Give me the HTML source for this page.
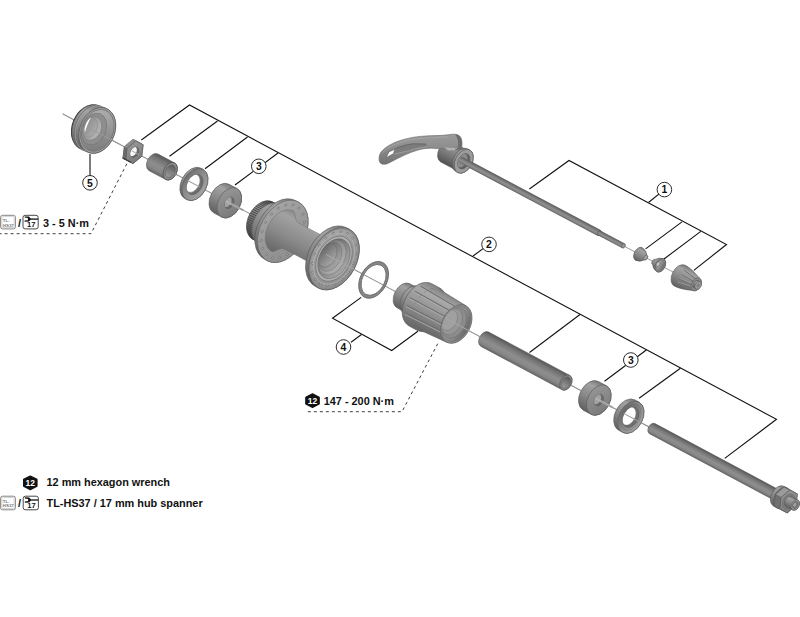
<!DOCTYPE html>
<html><head><meta charset="utf-8"><title>Hub exploded view</title>
<style>
html,body{margin:0;padding:0;background:#fff;}
svg{display:block;font-family:"Liberation Sans",sans-serif;fill:#111;}
</style></head><body>
<svg width="800" height="617" viewBox="0 0 800 617">
<rect width="800" height="617" fill="#fff"/>

<defs>
<linearGradient id="cy" x1="0" y1="0" x2="0" y2="1">
 <stop offset="0" stop-color="#787878"/><stop offset="0.2" stop-color="#a2a2a2"/>
 <stop offset="0.55" stop-color="#8a8a8a"/><stop offset="1" stop-color="#606060"/>
</linearGradient>
<linearGradient id="cyd" x1="0" y1="0" x2="0" y2="1">
 <stop offset="0" stop-color="#666"/><stop offset="0.25" stop-color="#8e8e8e"/>
 <stop offset="0.6" stop-color="#767676"/><stop offset="1" stop-color="#525252"/>
</linearGradient>
<linearGradient id="face" x1="0" y1="0" x2="1" y2="1">
 <stop offset="0" stop-color="#9a9a9a"/><stop offset="1" stop-color="#767676"/>
</linearGradient>
<linearGradient id="facel" x1="0" y1="0" x2="1" y2="1">
 <stop offset="0" stop-color="#a8a8a8"/><stop offset="1" stop-color="#8a8a8a"/>
</linearGradient>
<linearGradient id="inner" x1="0" y1="0" x2="1" y2="0">
 <stop offset="0" stop-color="#a6a6a6"/><stop offset="0.6" stop-color="#8a8a8a"/><stop offset="1" stop-color="#6a6a6a"/>
</linearGradient>
<linearGradient id="innerd" x1="0" y1="0" x2="0" y2="1">
 <stop offset="0" stop-color="#5a5a5a"/><stop offset="0.5" stop-color="#7c7c7c"/><stop offset="1" stop-color="#9c9c9c"/>
</linearGradient>
<linearGradient id="lev" x1="0" y1="0" x2="0" y2="1">
 <stop offset="0" stop-color="#9c9c9c"/><stop offset="0.4" stop-color="#8e8e8e"/><stop offset="1" stop-color="#727272"/>
</linearGradient>
<linearGradient id="innerv" x1="0" y1="0" x2="0.4" y2="1">
 <stop offset="0" stop-color="#b2b2b2"/><stop offset="0.5" stop-color="#9c9c9c"/><stop offset="1" stop-color="#808080"/>
</linearGradient>
<linearGradient id="wface" x1="0" y1="0.3" x2="1" y2="0.7">
 <stop offset="0" stop-color="#6e6e6e"/><stop offset="0.45" stop-color="#8c8c8c"/><stop offset="1" stop-color="#a4a4a4"/>
</linearGradient>
<linearGradient id="wface2" x1="0" y1="0.3" x2="1" y2="0.7">
 <stop offset="0" stop-color="#646464"/><stop offset="0.5" stop-color="#808080"/><stop offset="1" stop-color="#9a9a9a"/>
</linearGradient>
<linearGradient id="cyt" x1="0" y1="0" x2="0" y2="1">
 <stop offset="0" stop-color="#565656"/><stop offset="0.22" stop-color="#747474"/>
 <stop offset="0.55" stop-color="#8e8e8e"/><stop offset="0.8" stop-color="#868686"/><stop offset="1" stop-color="#666"/>
</linearGradient>
<linearGradient id="lrin" x1="0" y1="0" x2="1" y2="0.2">
 <stop offset="0" stop-color="#8a8a8a"/><stop offset="0.5" stop-color="#9c9c9c"/><stop offset="1" stop-color="#b4b4b4"/>
</linearGradient>
<linearGradient id="cyl" x1="0" y1="0" x2="0" y2="1">
 <stop offset="0" stop-color="#828282"/><stop offset="0.2" stop-color="#a8a8a8"/>
 <stop offset="0.55" stop-color="#929292"/><stop offset="1" stop-color="#666"/>
</linearGradient>
<linearGradient id="bore" x1="0" y1="0.2" x2="1" y2="0.6">
 <stop offset="0" stop-color="#7a7a7a"/><stop offset="0.5" stop-color="#969696"/><stop offset="1" stop-color="#b0b0b0"/>
</linearGradient>
<linearGradient id="bore2" x1="0" y1="0.2" x2="1" y2="0.6">
 <stop offset="0" stop-color="#5e5e5e"/><stop offset="0.5" stop-color="#848484"/><stop offset="1" stop-color="#a6a6a6"/>
</linearGradient>
<clipPath id="lrclip"><ellipse cx="40.81" cy="0" rx="15.95" ry="21.7"/></clipPath><clipPath id="nutclip"><ellipse cx="81.62" cy="0" rx="3.81" ry="5.6"/></clipPath><clipPath id="w1"><ellipse cx="150.09" cy="0" rx="7.34" ry="10.8"/></clipPath><clipPath id="b1"><ellipse cx="189.09" cy="0" rx="4.22" ry="6.2"/></clipPath><clipPath id="hubclip"><ellipse cx="307.78" cy="0" rx="14.42" ry="21.2"/></clipPath><clipPath id="fhclip"><ellipse cx="446.42" cy="0" rx="12.78" ry="18.8"/></clipPath><clipPath id="b2"><ellipse cx="607.96" cy="0" rx="4.22" ry="6.2"/></clipPath><clipPath id="w2"><ellipse cx="644.35" cy="0" rx="7.34" ry="10.8"/></clipPath><clipPath id="capclip"><ellipse cx="0" cy="0" rx="5.41" ry="8.2"/></clipPath></defs>

<g transform="translate(62.5,113.75) rotate(28.1)">
<line x1="0" y1="0" x2="667.14" y2="0" stroke="#8a8a8a" stroke-width="0.9" />
<g transform="translate(-2.3,-1.7) rotate(-6 40.81 0)">
<ellipse cx="32.01" cy="0" rx="17.2" ry="23.4" fill="#262626" stroke="none" stroke-width="0.7" />
<path d="M33.21,-23.7 L40.81,-23.7 A17.42,23.7 0 0 1 40.81,23.7 L33.21,23.7 A17.42,23.7 0 0 1 33.21,-23.7 Z" fill="url(#cy)" stroke="#5c5c5c" stroke-width="0.6"/>
<path d="M35.81,-23.7 A17.42,23.7 0 0 0 35.81,23.7" fill="none" stroke="#6a6a6a" stroke-width="0.7"/>
<path d="M36.81,-23.7 A17.42,23.7 0 0 0 36.81,23.7" fill="none" stroke="#a6a6a6" stroke-width="0.6"/>
<ellipse cx="40.81" cy="0" rx="17.42" ry="23.7" fill="#a0a0a0" stroke="#5c5c5c" stroke-width="0.7" />
<g clip-path="url(#lrclip)">
<ellipse cx="40.81" cy="0" rx="15.95" ry="21.7" fill="url(#innerv)" stroke="#6a6a6a" stroke-width="0.5" />
<ellipse cx="37.21" cy="0" rx="12.05" ry="16.4" fill="#8e8e8e" stroke="#6c6c6c" stroke-width="0.5" />
<ellipse cx="35.21" cy="0" rx="9.11" ry="12.4" fill="url(#lrin)" stroke="#747474" stroke-width="0.5" />
<ellipse cx="32.41" cy="0" rx="7.5" ry="10.2" fill="none" stroke="#8a8a8a" stroke-width="0.5" />
<path d="M30.21,-9.5 A4.2,9 0 0 0 30.21,6.5 A1.0,9 0 0 1 30.21,-9.5Z" fill="#fff"/>
</g>
<ellipse cx="40.81" cy="0" rx="15.95" ry="21.7" fill="none" stroke="#6a6a6a" stroke-width="0.5" />
</g>
<line x1="28.81" y1="0" x2="64.81" y2="0" stroke="#9a9a9a" stroke-width="0.9" />
<polygon points="86.78,0 82.6,10.65 74.24,10.65 70.06,0 74.24,-10.65 82.6,-10.65" fill="#5a5a5a" stroke="#505050" stroke-width="0.6"/>
<polygon points="86.78,0 82.6,10.65 85.8,10.65 89.98,0" fill="#4c4c4c" stroke="#4c4c4c" stroke-width="0.4"/>
<polygon points="82.6,10.65 74.24,10.65 77.44,10.65 85.8,10.65" fill="#4c4c4c" stroke="#4c4c4c" stroke-width="0.4"/>
<polygon points="74.24,10.65 70.06,0 73.26,0 77.44,10.65" fill="#6a6a6a" stroke="#6a6a6a" stroke-width="0.4"/>
<polygon points="70.06,0 74.24,-10.65 77.44,-10.65 73.26,0" fill="#8e8e8e" stroke="#8e8e8e" stroke-width="0.4"/>
<polygon points="74.24,-10.65 82.6,-10.65 85.8,-10.65 77.44,-10.65" fill="#8e8e8e" stroke="#8e8e8e" stroke-width="0.4"/>
<polygon points="82.6,-10.65 86.78,0 89.98,0 85.8,-10.65" fill="#7a7a7a" stroke="#7a7a7a" stroke-width="0.4"/>
<polygon points="89.98,0 85.8,10.65 77.44,10.65 73.26,0 77.44,-10.65 85.8,-10.65" fill="url(#face)" stroke="#5a5a5a" stroke-width="0.6"/>
<ellipse cx="81.62" cy="0" rx="3.81" ry="5.6" fill="#6a6a6a" stroke="#5a5a5a" stroke-width="0.5" />
<ellipse cx="79.82" cy="0" rx="3.54" ry="5.2" fill="#f6f6f6" stroke="none" stroke-width="0.7" clip-path="url(#nutclip)"/>
<line x1="78.62" y1="0" x2="86.62" y2="0" stroke="#a6a6a6" stroke-width="0.9" />
<polyline points="82.6,10.65 74.24,10.65" fill="none" stroke="#3a3a3a" stroke-width="1.3" stroke-linecap="round"/>
<path d="M103.27,-9.4 L122.09,-9.4 A6.39,9.4 0 0 1 122.09,9.4 L103.27,9.4 A6.39,9.4 0 0 1 103.27,-9.4 Z" fill="url(#cyt)" stroke="#5c5c5c" stroke-width="0.6"/>
<ellipse cx="122.09" cy="0" rx="6.39" ry="9.4" fill="#8c8c8c" stroke="#4a4a4a" stroke-width="0.7" />
<ellipse cx="122.09" cy="0" rx="4.56" ry="6.7" fill="url(#innerd)" stroke="#555" stroke-width="0.5" />
<line x1="121.09" y1="0" x2="130.09" y2="0" stroke="#8a8a8a" stroke-width="0.9" />
<path d="M147.89,-17.2 L150.09,-17.2 A11.7,17.2 0 0 1 150.09,17.2 L147.89,17.2 A11.7,17.2 0 0 1 147.89,-17.2 Z" fill="url(#cy)" stroke="#5c5c5c" stroke-width="0.6"/>
<ellipse cx="150.09" cy="0" rx="11.7" ry="17.2" fill="url(#wface)" stroke="#5c5c5c" stroke-width="0.6" />
<ellipse cx="150.09" cy="0" rx="7.34" ry="10.8" fill="#6e6e6e" stroke="#5c5c5c" stroke-width="0.5" />
<ellipse cx="147.49" cy="0" rx="6.53" ry="9.6" fill="#fff" stroke="#8a8a8a" stroke-width="0.4" clip-path="url(#w1)"/>
<line x1="141.75" y1="0" x2="155.94" y2="0" stroke="#9a9a9a" stroke-width="0.9" />
<path d="M180.09,-16.2 L189.09,-16.2 A11.02,16.2 0 0 1 189.09,16.2 L180.09,16.2 A11.02,16.2 0 0 1 180.09,-16.2 Z" fill="url(#cy)" stroke="#5c5c5c" stroke-width="0.6"/>
<ellipse cx="189.09" cy="0" rx="11.02" ry="16.2" fill="url(#face)" stroke="#5c5c5c" stroke-width="0.6" />
<ellipse cx="189.09" cy="0" rx="4.22" ry="6.2" fill="#6a6a6a" stroke="#5c5c5c" stroke-width="0.5" />
<ellipse cx="186.89" cy="0" rx="3.81" ry="5.6" fill="#a2a2a2" stroke="none" stroke-width="0.7" clip-path="url(#b1)"/>
<line x1="185.09" y1="0" x2="205.09" y2="0" stroke="#b0b0b0" stroke-width="2.2" />
<line x1="191.09" y1="0" x2="205.09" y2="0" stroke="#9a9a9a" stroke-width="0.9" />
<path d="M226.72,-21 L234.66,-21 A14.28,21 0 0 1 234.66,21 L226.72,21 A14.28,21 0 0 1 226.72,-21 Z" fill="url(#cyd)" stroke="#555" stroke-width="0.6"/>
<path d="M226.23,20.99 l6.5,0 M224.72,20.79 l6.5,0 M223.24,20.36 l6.5,0 M221.79,19.71 l6.5,0 M220.4,18.83 l6.5,0 M219.08,17.74 l6.5,0 M217.85,16.45 l6.5,0 M216.72,14.98 l6.5,0 M215.7,13.34 l6.5,0 M214.8,11.55 l6.5,0 M214.04,9.64 l6.5,0 M213.41,7.61 l6.5,0 M212.94,5.5 l6.5,0 M212.62,3.32 l6.5,0 M212.46,1.11 l6.5,0 M212.46,-1.11 l6.5,0 M212.62,-3.32 l6.5,0 M212.94,-5.5 l6.5,0 M213.41,-7.61 l6.5,0 M214.04,-9.64 l6.5,0 M214.8,-11.55 l6.5,0 M215.7,-13.34 l6.5,0 M216.72,-14.98 l6.5,0 M217.85,-16.45 l6.5,0 M219.08,-17.74 l6.5,0 M220.4,-18.83 l6.5,0 M221.79,-19.71 l6.5,0 M223.24,-20.36 l6.5,0 M224.72,-20.79 l6.5,0 M226.23,-20.99 l6.5,0" stroke="#3a3a3a" stroke-width="0.7" fill="none"/>
<path d="M234.16,-22.5 L246.74,-25 A17,25 0 0 1 246.74,25 L234.16,22.5 A15.3,22.5 0 0 1 234.16,-22.5 Z" fill="url(#cy)" stroke="#666" stroke-width="0.5"/>
<path d="M246.74,-33.2 L249.74,-33.2 A22.58,33.2 0 0 1 249.74,33.2 L246.74,33.2 A22.58,33.2 0 0 1 246.74,-33.2 Z" fill="url(#cy)" stroke="#5a5a5a" stroke-width="0.6"/>
<ellipse cx="249.74" cy="0" rx="22.58" ry="33.2" fill="url(#facel)" stroke="#666" stroke-width="0.6" />
<ellipse cx="269.19" cy="0" rx="0.8" ry="1.15" fill="#cdcdcd" stroke="#5c5c5c" stroke-width="0.6"/><ellipse cx="268.01" cy="9.78" rx="0.8" ry="1.15" fill="#cdcdcd" stroke="#5c5c5c" stroke-width="0.6"/><ellipse cx="264.64" cy="18.38" rx="0.8" ry="1.15" fill="#cdcdcd" stroke="#5c5c5c" stroke-width="0.6"/><ellipse cx="259.46" cy="24.77" rx="0.8" ry="1.15" fill="#cdcdcd" stroke="#5c5c5c" stroke-width="0.6"/><ellipse cx="253.11" cy="28.17" rx="0.8" ry="1.15" fill="#cdcdcd" stroke="#5c5c5c" stroke-width="0.6"/><ellipse cx="246.36" cy="28.17" rx="0.8" ry="1.15" fill="#cdcdcd" stroke="#5c5c5c" stroke-width="0.6"/><ellipse cx="240.01" cy="24.77" rx="0.8" ry="1.15" fill="#cdcdcd" stroke="#5c5c5c" stroke-width="0.6"/><ellipse cx="234.84" cy="18.38" rx="0.8" ry="1.15" fill="#cdcdcd" stroke="#5c5c5c" stroke-width="0.6"/><ellipse cx="231.46" cy="9.78" rx="0.8" ry="1.15" fill="#cdcdcd" stroke="#5c5c5c" stroke-width="0.6"/><ellipse cx="230.29" cy="0" rx="0.8" ry="1.15" fill="#cdcdcd" stroke="#5c5c5c" stroke-width="0.6"/><ellipse cx="231.46" cy="-9.78" rx="0.8" ry="1.15" fill="#cdcdcd" stroke="#5c5c5c" stroke-width="0.6"/><ellipse cx="234.84" cy="-18.38" rx="0.8" ry="1.15" fill="#cdcdcd" stroke="#5c5c5c" stroke-width="0.6"/><ellipse cx="240.01" cy="-24.77" rx="0.8" ry="1.15" fill="#cdcdcd" stroke="#5c5c5c" stroke-width="0.6"/><ellipse cx="246.36" cy="-28.17" rx="0.8" ry="1.15" fill="#cdcdcd" stroke="#5c5c5c" stroke-width="0.6"/><ellipse cx="253.11" cy="-28.17" rx="0.8" ry="1.15" fill="#cdcdcd" stroke="#5c5c5c" stroke-width="0.6"/><ellipse cx="259.46" cy="-24.77" rx="0.8" ry="1.15" fill="#cdcdcd" stroke="#5c5c5c" stroke-width="0.6"/><ellipse cx="264.64" cy="-18.38" rx="0.8" ry="1.15" fill="#cdcdcd" stroke="#5c5c5c" stroke-width="0.6"/><ellipse cx="268.01" cy="-9.78" rx="0.8" ry="1.15" fill="#cdcdcd" stroke="#5c5c5c" stroke-width="0.6"/>
<path d="M249.74,-23 C252.74,-22 254.74,-14.8 259.74,-14.8 L293.78,-14.8 C299.78,-14.8 301.78,-20 304.78,-27 L304.78,27 C301.78,20 299.78,14.8 293.78,14.8 L259.74,14.8 C254.74,14.8 252.74,22 249.74,23 A15.64,23 0 0 1 249.74,-23Z" fill="url(#cy)" stroke="#6a6a6a" stroke-width="0.4"/>
<path d="M304.28,-33.2 L307.78,-33.2 A22.58,33.2 0 0 1 307.78,33.2 L304.28,33.2 A22.58,33.2 0 0 1 304.28,-33.2 Z" fill="url(#cy)" stroke="#5a5a5a" stroke-width="0.6"/>
<ellipse cx="307.78" cy="0" rx="22.58" ry="33.2" fill="#8c8c8c" stroke="#5a5a5a" stroke-width="0.6" />
<ellipse cx="307.78" cy="0" rx="21.56" ry="31.7" fill="url(#facel)" stroke="#808080" stroke-width="0.4" />
<ellipse cx="326.93" cy="4.97" rx="0.8" ry="1.15" fill="#cdcdcd" stroke="#5c5c5c" stroke-width="0.6"/><ellipse cx="324.62" cy="14.3" rx="0.8" ry="1.15" fill="#cdcdcd" stroke="#5c5c5c" stroke-width="0.6"/><ellipse cx="320.28" cy="21.91" rx="0.8" ry="1.15" fill="#cdcdcd" stroke="#5c5c5c" stroke-width="0.6"/><ellipse cx="314.43" cy="26.88" rx="0.8" ry="1.15" fill="#cdcdcd" stroke="#5c5c5c" stroke-width="0.6"/><ellipse cx="307.78" cy="28.6" rx="0.8" ry="1.15" fill="#cdcdcd" stroke="#5c5c5c" stroke-width="0.6"/><ellipse cx="301.13" cy="26.88" rx="0.8" ry="1.15" fill="#cdcdcd" stroke="#5c5c5c" stroke-width="0.6"/><ellipse cx="295.28" cy="21.91" rx="0.8" ry="1.15" fill="#cdcdcd" stroke="#5c5c5c" stroke-width="0.6"/><ellipse cx="290.94" cy="14.3" rx="0.8" ry="1.15" fill="#cdcdcd" stroke="#5c5c5c" stroke-width="0.6"/><ellipse cx="288.63" cy="4.97" rx="0.8" ry="1.15" fill="#cdcdcd" stroke="#5c5c5c" stroke-width="0.6"/><ellipse cx="288.63" cy="-4.97" rx="0.8" ry="1.15" fill="#cdcdcd" stroke="#5c5c5c" stroke-width="0.6"/><ellipse cx="290.94" cy="-14.3" rx="0.8" ry="1.15" fill="#cdcdcd" stroke="#5c5c5c" stroke-width="0.6"/><ellipse cx="295.28" cy="-21.91" rx="0.8" ry="1.15" fill="#cdcdcd" stroke="#5c5c5c" stroke-width="0.6"/><ellipse cx="301.13" cy="-26.88" rx="0.8" ry="1.15" fill="#cdcdcd" stroke="#5c5c5c" stroke-width="0.6"/><ellipse cx="307.78" cy="-28.6" rx="0.8" ry="1.15" fill="#cdcdcd" stroke="#5c5c5c" stroke-width="0.6"/><ellipse cx="314.43" cy="-26.88" rx="0.8" ry="1.15" fill="#cdcdcd" stroke="#5c5c5c" stroke-width="0.6"/><ellipse cx="320.28" cy="-21.91" rx="0.8" ry="1.15" fill="#cdcdcd" stroke="#5c5c5c" stroke-width="0.6"/><ellipse cx="324.62" cy="-14.3" rx="0.8" ry="1.15" fill="#cdcdcd" stroke="#5c5c5c" stroke-width="0.6"/><ellipse cx="326.93" cy="-4.97" rx="0.8" ry="1.15" fill="#cdcdcd" stroke="#5c5c5c" stroke-width="0.6"/>
<ellipse cx="307.78" cy="0" rx="18.5" ry="27.2" fill="none" stroke="#b4b4b4" stroke-width="0.7" />
<ellipse cx="307.78" cy="0" rx="16.32" ry="24" fill="#b0b0b0" stroke="#6c6c6c" stroke-width="0.6" />
<ellipse cx="307.78" cy="0" rx="14.42" ry="21.2" fill="url(#bore2)" stroke="#666" stroke-width="0.5" />
<ellipse cx="305.58" cy="0" rx="12.51" ry="18.4" fill="url(#bore)" stroke="#747474" stroke-width="0.5" clip-path="url(#hubclip)"/>
<ellipse cx="303.28" cy="0" rx="10.61" ry="15.6" fill="url(#bore2)" stroke="#747474" stroke-width="0.5" clip-path="url(#hubclip)"/>
<ellipse cx="300.28" cy="0" rx="8.57" ry="12.6" fill="url(#bore2)" stroke="#6e6e6e" stroke-width="0.5" clip-path="url(#hubclip)"/>
<line x1="298.78" y1="0" x2="339.52" y2="0" stroke="#a6a6a6" stroke-width="0.9" />
<path d="M352.67,-19.6 A13.33,19.6 0 1 1 352.67,19.6 A13.33,19.6 0 1 1 352.67,-19.6Z M352.67,-16.400000000000002 A11.15,16.400000000000002 0 1 0 352.67,16.400000000000002 A11.15,16.400000000000002 0 1 0 352.67,-16.400000000000002Z" fill="#868686" stroke="#5a5a5a" stroke-width="0.7" fill-rule="evenodd"/>
<path d="M386.57,-13.6 L401.63,-13.6 A9.25,13.6 0 0 1 401.63,13.6 L386.57,13.6 A9.25,13.6 0 0 1 386.57,-13.6 Z" fill="url(#cy)" stroke="#5c5c5c" stroke-width="0.6"/>
<path d="M395.63,-15.2 L405.84,-15.2 A10.34,15.2 0 0 1 405.84,15.2 L395.63,15.2 A10.34,15.2 0 0 1 395.63,-15.2 Z" fill="url(#cy)" stroke="#5c5c5c" stroke-width="0.6"/>
<path d="M405.84,-24 L414.84,-24 A16.32,24 0 0 1 414.84,24 L405.84,24 A16.32,24 0 0 1 405.84,-24 Z" fill="url(#cyl)" stroke="#5c5c5c" stroke-width="0.6"/>
<path d="M414.34,-22.6 L446.42,-20.6 A14.01,20.6 0 0 1 446.42,20.6 L414.34,22.6 A15.37,22.6 0 0 1 414.34,-22.6 Z" fill="url(#cyl)" stroke="none" stroke-width="0.6"/>
<path d="M414.84,-24.0 L416.34,-22.5 L446.42,-20.6" fill="none" stroke="#5c5c5c" stroke-width="0.6"/>
<path d="M414.84,24.0 L416.34,22.5 L446.42,20.6" fill="none" stroke="#5c5c5c" stroke-width="0.6"/>
<line x1="397.49" y1="-16.5" x2="455.79" y2="-14.16" stroke="#6a6a6a" stroke-width="0.9"/><line x1="397.49" y1="-15.2" x2="455.79" y2="-12.86" stroke="#ababab" stroke-width="0.8"/><line x1="394.35" y1="-9.5" x2="458.48" y2="-8.15" stroke="#6a6a6a" stroke-width="0.9"/><line x1="394.35" y1="-8.2" x2="458.48" y2="-6.85" stroke="#ababab" stroke-width="0.8"/><line x1="393.05" y1="-1.5" x2="459.6" y2="-1.29" stroke="#6a6a6a" stroke-width="0.9"/><line x1="393.05" y1="-0.19999999999999996" x2="459.6" y2="0.01" stroke="#ababab" stroke-width="0.8"/><line x1="393.73" y1="7" x2="459.02" y2="6.01" stroke="#6a6a6a" stroke-width="0.9"/><line x1="393.73" y1="8.3" x2="459.02" y2="7.31" stroke="#ababab" stroke-width="0.8"/><line x1="396.33" y1="14.5" x2="456.78" y2="12.45" stroke="#6a6a6a" stroke-width="0.9"/><line x1="396.33" y1="15.8" x2="456.78" y2="13.75" stroke="#ababab" stroke-width="0.8"/>
<path d="M415.84,-22.6 A15.37,22.6 0 0 0 415.84,22.6" fill="none" stroke="#777" stroke-width="0.5" stroke-dasharray="3 4"/>
<ellipse cx="446.42" cy="0" rx="14.01" ry="20.6" fill="#909090" stroke="#5c5c5c" stroke-width="0.6" />
<ellipse cx="446.42" cy="0" rx="12.78" ry="18.8" fill="url(#inner)" stroke="#6c6c6c" stroke-width="0.5" />
<ellipse cx="443.92" cy="0" rx="11.15" ry="16.4" fill="#8c8c8c" stroke="#707070" stroke-width="0.5" clip-path="url(#fhclip)"/>
<ellipse cx="441.42" cy="0" rx="9.52" ry="14" fill="#969696" stroke="#747474" stroke-width="0.5" clip-path="url(#fhclip)"/>
<ellipse cx="438.42" cy="0" rx="7.48" ry="11" fill="#a0a0a0" stroke="#7a7a7a" stroke-width="0.5" clip-path="url(#fhclip)"/>
<line x1="434.42" y1="0" x2="476.42" y2="0" stroke="#a8a8a8" stroke-width="0.9" />
<path d="M478.73,-8.1 L570.67,-8.1 A5.51,8.1 0 0 1 570.67,8.1 L478.73,8.1 A5.51,8.1 0 0 1 478.73,-8.1 Z" fill="url(#cyt)" stroke="#5c5c5c" stroke-width="0.6"/>
<ellipse cx="570.67" cy="0" rx="5.51" ry="8.1" fill="#8a8a8a" stroke="#555" stroke-width="0.6" />
<ellipse cx="570.67" cy="0" rx="4.15" ry="6.1" fill="url(#innerd)" stroke="#5a5a5a" stroke-width="0.5" />
<path d="M598.96,-16.2 L607.96,-16.2 A11.02,16.2 0 0 1 607.96,16.2 L598.96,16.2 A11.02,16.2 0 0 1 598.96,-16.2 Z" fill="url(#cy)" stroke="#5c5c5c" stroke-width="0.6"/>
<ellipse cx="607.96" cy="0" rx="11.02" ry="16.2" fill="url(#face)" stroke="#5c5c5c" stroke-width="0.6" />
<ellipse cx="607.96" cy="0" rx="4.22" ry="6.2" fill="#6a6a6a" stroke="#5c5c5c" stroke-width="0.5" />
<ellipse cx="605.76" cy="0" rx="3.81" ry="5.6" fill="#a2a2a2" stroke="none" stroke-width="0.7" clip-path="url(#b2)"/>
<line x1="603.96" y1="0" x2="623.96" y2="0" stroke="#b0b0b0" stroke-width="2.2" />
<line x1="609.96" y1="0" x2="623.96" y2="0" stroke="#9a9a9a" stroke-width="0.9" />
<path d="M639.75,-17.2 L644.35,-17.2 A11.7,17.2 0 0 1 644.35,17.2 L639.75,17.2 A11.7,17.2 0 0 1 639.75,-17.2 Z" fill="url(#cy)" stroke="#5c5c5c" stroke-width="0.6"/>
<ellipse cx="644.35" cy="0" rx="11.7" ry="17.2" fill="url(#wface)" stroke="#5c5c5c" stroke-width="0.6" />
<ellipse cx="643.75" cy="0" rx="9.72" ry="14.3" fill="url(#wface2)" stroke="#747474" stroke-width="0.5" />
<ellipse cx="644.35" cy="0" rx="7.34" ry="10.8" fill="#6e6e6e" stroke="#5c5c5c" stroke-width="0.5" />
<ellipse cx="641.75" cy="0" rx="6.53" ry="9.6" fill="#fff" stroke="#8a8a8a" stroke-width="0.4" clip-path="url(#w2)"/>
<line x1="636.01" y1="0" x2="650.2" y2="0" stroke="#9a9a9a" stroke-width="0.9" />
<line x1="649.35" y1="0" x2="669.4" y2="0" stroke="#9a9a9a" stroke-width="0.9" />
<path d="M668.5,-5.7 L813.15,-5.7 A3.88,5.7 0 0 1 813.15,5.7 L668.5,5.7 A3.88,5.7 0 0 1 668.5,-5.7 Z" fill="url(#cyt)" stroke="#5c5c5c" stroke-width="0.6"/>
<path d="M812.15,-11.2 L815.65,-11.2 A7.62,11.2 0 0 1 815.65,11.2 L812.15,11.2 A7.62,11.2 0 0 1 812.15,-11.2 Z" fill="url(#cy)" stroke="#5c5c5c" stroke-width="0.6"/>
<ellipse cx="815.65" cy="0" rx="7.62" ry="11.2" fill="#808080" stroke="#555" stroke-width="0.6" />
<polygon points="825.08,0 820.86,10.74 812.43,10.74 808.22,0 812.43,-10.74 820.86,-10.74" fill="#6e6e6e" stroke="#555" stroke-width="0.5"/>
<polygon points="825.08,0 820.86,10.74 827.36,10.74 831.58,0" fill="#5a5a5a" stroke="#5c5c5c" stroke-width="0.4"/>
<polygon points="820.86,10.74 812.43,10.74 818.93,10.74 827.36,10.74" fill="#565656" stroke="#5c5c5c" stroke-width="0.4"/>
<polygon points="812.43,10.74 808.22,0 814.72,0 818.93,10.74" fill="#707070" stroke="#5c5c5c" stroke-width="0.4"/>
<polygon points="808.22,0 812.43,-10.74 818.93,-10.74 814.72,0" fill="#9a9a9a" stroke="#5c5c5c" stroke-width="0.4"/>
<polygon points="812.43,-10.74 820.86,-10.74 827.36,-10.74 818.93,-10.74" fill="#a0a0a0" stroke="#5c5c5c" stroke-width="0.4"/>
<polygon points="820.86,-10.74 825.08,0 831.58,0 827.36,-10.74" fill="#8a8a8a" stroke="#5c5c5c" stroke-width="0.4"/>
<polygon points="831.58,0 827.36,10.74 818.93,10.74 814.72,0 818.93,-10.74 827.36,-10.74" fill="url(#face)" stroke="#555" stroke-width="0.5"/>
<ellipse cx="823.15" cy="0" rx="5.58" ry="8.2" fill="#7c7c7c" stroke="#666" stroke-width="0.4" />
<path d="M823.15,-5.6 L830.65,-5.6 A3.81,5.6 0 0 1 830.65,5.6 L823.15,5.6 A3.81,5.6 0 0 1 823.15,-5.6 Z" fill="url(#cy)" stroke="#5c5c5c" stroke-width="0.6"/>
<ellipse cx="830.65" cy="0" rx="3.81" ry="5.6" fill="#949494" stroke="#555" stroke-width="0.5" />
<ellipse cx="830.65" cy="0" rx="2.45" ry="3.6" fill="#7a7a7a" stroke="#5c5c5c" stroke-width="0.5" />
<ellipse cx="830.15" cy="0" rx="1.36" ry="2" fill="#a0a0a0" stroke="none" stroke-width="0.7" />
</g>
<g transform="translate(463.75,161.25) rotate(27.9)">
<line x1="0" y1="0" x2="242.43" y2="0" stroke="#9a9a9a" stroke-width="0.9" />
<path d="M0,-3 L153.04,-3 A1.98,3 0 0 1 153.04,3 L0,3 A1.98,3 0 0 1 0,-3 Z" fill="url(#cyt)" stroke="#5c5c5c" stroke-width="0.6"/>
<path d="M153.04,-2.35 L180.65,-2.35 A1.55,2.35 0 0 1 180.65,2.35 L153.04,2.35 A1.55,2.35 0 0 1 153.04,-2.35 Z" fill="url(#cyt)" stroke="#5c5c5c" stroke-width="0.6"/>
<ellipse cx="180.65" cy="0" rx="1.55" ry="2.35" fill="#9a9a9a" stroke="#555" stroke-width="0.5" />
<path d="M-20,-11.4 L0,-11.4 A7.52,11.4 0 0 1 0,11.4 L-20,11.4 A7.52,11.4 0 0 1 -20,-11.4 Z" fill="url(#cyd)" stroke="#5c5c5c" stroke-width="0.6"/>
<path d="M-2.2,-12.8 L0,-12.8 A8.45,12.8 0 0 1 0,12.8 L-2.2,12.8 A8.45,12.8 0 0 1 -2.2,-12.8 Z" fill="url(#cy)" stroke="#5c5c5c" stroke-width="0.6"/>
<ellipse cx="0" cy="0" rx="8.45" ry="12.8" fill="#9c9c9c" stroke="#555" stroke-width="0.6" />
<ellipse cx="0" cy="0" rx="5.41" ry="8.2" fill="#626262" stroke="#555" stroke-width="0.5" />
<ellipse cx="-2.2" cy="0" rx="5.02" ry="7.6" fill="#8a8a8a" stroke="none" stroke-width="0.7" clip-path="url(#capclip)"/>
<path d="M-3,-3 L8,-3 A1.98,3 0 0 1 8,3 L-3,3 A1.98,3 0 0 1 -3,-3 Z" fill="url(#cyt)" stroke="none" stroke-width="0.6"/>
<path d="M198.3,-7.2 A4.75,7.2 0 0 0 198.3,7.2 Q203.3,6.5 205.8,2.6 A1.72,2.6 0 0 0 205.8,-2.6 Q203.3,-6.5 198.3,-7.2Z" fill="url(#cy)" stroke="#555" stroke-width="0.6"/>
<ellipse cx="205.8" cy="0" rx="1.72" ry="2.6" fill="#a4a4a4" stroke="#555" stroke-width="0.5" />
<path d="M222.4,-7.2 A4.75,7.2 0 0 1 222.4,7.2 Q217.4,6.5 215.4,3 A1.98,3 0 0 1 215.4,-3 Q217.4,-6.5 222.4,-7.2Z" fill="url(#cy)" stroke="#555" stroke-width="0.6"/>
<ellipse cx="222.4" cy="0" rx="4.75" ry="7.2" fill="#8c8c8c" stroke="#555" stroke-width="0.6" />
<ellipse cx="222.4" cy="0" rx="3.7" ry="5.6" fill="url(#inner)" stroke="#666" stroke-width="0.5" />
<ellipse cx="219.9" cy="0" rx="1.72" ry="2.6" fill="#c0c0c0" stroke="#666" stroke-width="0.5" />
<path d="M244.47,-11.7 A7.72,11.7 0 0 0 244.47,11.7 Q250.47,12.0 263.02,7.0 A4.62,7.0 0 0 0 263.02,-7.0 Q250.47,-12.0 244.47,-11.7Z" fill="url(#cy)" stroke="#5c5c5c" stroke-width="0.6"/>
<line x1="245.47" y1="-7" x2="262.02" y2="-4.2" stroke="#6c6c6c" stroke-width="0.8"/><line x1="245.47" y1="-8.1" x2="262.02" y2="-5.1000000000000005" stroke="#a4a4a4" stroke-width="0.6"/><line x1="245.47" y1="-2" x2="262.02" y2="-1.2" stroke="#6c6c6c" stroke-width="0.8"/><line x1="245.47" y1="-3.1" x2="262.02" y2="-2.1" stroke="#a4a4a4" stroke-width="0.6"/><line x1="245.47" y1="3.4" x2="262.02" y2="2.04" stroke="#6c6c6c" stroke-width="0.8"/><line x1="245.47" y1="2.3" x2="262.02" y2="1.1400000000000001" stroke="#a4a4a4" stroke-width="0.6"/><line x1="245.47" y1="7.8" x2="262.02" y2="4.68" stroke="#6c6c6c" stroke-width="0.8"/><line x1="245.47" y1="6.699999999999999" x2="262.02" y2="3.78" stroke="#a4a4a4" stroke-width="0.6"/>
<ellipse cx="263.02" cy="0" rx="4.62" ry="7" fill="#8a8a8a" stroke="#5c5c5c" stroke-width="0.5" />
<path d="M263.02,-4.2 L265.22,-4.2 A2.77,4.2 0 0 1 265.22,4.2 L263.02,4.2 A2.77,4.2 0 0 1 263.02,-4.2 Z" fill="url(#cy)" stroke="#5c5c5c" stroke-width="0.6"/>
<ellipse cx="265.22" cy="0" rx="2.77" ry="4.2" fill="#9c9c9c" stroke="#5c5c5c" stroke-width="0.5" />
<ellipse cx="265.22" cy="0" rx="1.32" ry="2" fill="#7c7c7c" stroke="none" stroke-width="0.7" />
</g>
<path d="M379.1,160 C378.8,156 379.8,153.4 382,151 C386,146.8 391,144 396,142 C404,138.8 412,137.2 420,136.4 C430,135.4 440,136 450,134.6 C455,133.6 459.4,134.4 461,138 C462.4,141.4 462.4,145 461.4,148.6 L452,150.6 C447,148.8 441,148.4 436,148.6 C430,147.6 424,148.4 418,150 C409,152.6 399,157.6 390,162.4 C386,164.6 382.8,164.8 380.8,163.4 C379.8,162.6 379.3,161.4 379.1,160Z" fill="url(#lev)" stroke="#666" stroke-width="0.6"/>
<path d="M395.3,148.6 C401,146.2 407,144.4 413.3,143.8 L426,144.1 Q427.8,145.2 427.1,146.6 C421,147.4 415,148.8 409.5,150.5 L394.5,154 Z" fill="#7c7c7c"/>
<path d="M395.3,148.6 C401,146.2 407,144.4 413.3,143.8 L426,144.1" fill="none" stroke="#5e5e5e" stroke-width="0.8"/>
<path d="M427.1,146.6 C421,147.4 415,148.8 409.5,150.5 L394.5,154" fill="none" stroke="#a2a2a2" stroke-width="0.8"/>
<path d="M386.2,157.7 L388.9,151.9 L394.6,149.3 L393.6,153.6Z" fill="#fff" stroke="#5a5a5a" stroke-width="0.6"/>
<path d="M382.6,152.6 C388,147 397,143.2 407,140.4 C418,137.6 434,138 448,136.6" fill="none" stroke="#a4a4a4" stroke-width="1"/>
<path d="M455,134.2 C459,134.4 461,136.6 461.6,140.6 C462,144 461.8,146.6 461.4,148.6 L457.4,149.4 C458.8,144.6 458.6,138.6 455,134.2Z" fill="#6c6c6c"/>
<path d="M444.4,147.4 L455.4,148 L455,150.4 L448,150.6Z" fill="#b2b2b2"/>
<polyline points="141.3,140 189.5,105 776.5,419.3 724.7,458.4" fill="none" stroke="#111" stroke-width="1.1" stroke-linejoin="miter" />
<line x1="169.5" y1="156.3" x2="217.5" y2="121" stroke="#111" stroke-width="1.1" />
<line x1="205" y1="168.8" x2="247.5" y2="137" stroke="#111" stroke-width="1.1" />
<line x1="235" y1="185" x2="278" y2="153" stroke="#111" stroke-width="1.1" />
<circle cx="258.8" cy="166.3" r="7.3" fill="#fff" stroke="#222" stroke-width="0.95"/><text x="258.8" y="170.05" text-anchor="middle" font-size="10.4" font-weight="700">3</text>
<line x1="473" y1="256" x2="489" y2="244.4" stroke="#111" stroke-width="1.1" />
<circle cx="489" cy="244.4" r="7.3" fill="#fff" stroke="#222" stroke-width="0.95"/><text x="489" y="248.15" text-anchor="middle" font-size="10.4" font-weight="700">2</text>
<line x1="529.5" y1="352.5" x2="580" y2="314.5" stroke="#111" stroke-width="1.1" />
<line x1="604.5" y1="381.3" x2="646.3" y2="350" stroke="#111" stroke-width="1.1" />
<circle cx="630.8" cy="360" r="7.3" fill="#fff" stroke="#222" stroke-width="0.95"/><text x="630.8" y="363.75" text-anchor="middle" font-size="10.4" font-weight="700">3</text>
<line x1="639.1" y1="398.3" x2="680.4" y2="368.3" stroke="#111" stroke-width="1.1" />
<polyline points="361.2,297.4 332.5,318.3 391.7,350.5 417.9,331.3" fill="none" stroke="#111" stroke-width="1.1" stroke-linejoin="miter" />
<line x1="351" y1="342.3" x2="361.5" y2="334.5" stroke="#111" stroke-width="1.1" />
<circle cx="343.5" cy="347" r="7.3" fill="#fff" stroke="#222" stroke-width="0.95"/><text x="343.5" y="350.75" text-anchor="middle" font-size="10.4" font-weight="700">4</text>
<polyline points="529.4,189 569,160.5 726.5,244.5 693.8,270.4" fill="none" stroke="#111" stroke-width="1.1" stroke-linejoin="miter" />
<line x1="645.6" y1="248.9" x2="682" y2="221.9" stroke="#111" stroke-width="1.1" />
<line x1="664" y1="259" x2="700.8" y2="231.4" stroke="#111" stroke-width="1.1" />
<line x1="648.5" y1="202.5" x2="664.4" y2="189.6" stroke="#111" stroke-width="1.1" />
<circle cx="664.4" cy="189.6" r="7.3" fill="#fff" stroke="#222" stroke-width="0.95"/><text x="664.4" y="193.35" text-anchor="middle" font-size="10.4" font-weight="700">1</text>
<line x1="90" y1="154" x2="90" y2="176" stroke="#111" stroke-width="1.1" />
<circle cx="90" cy="182.8" r="7.3" fill="#fff" stroke="#222" stroke-width="0.95"/><text x="90" y="186.55" text-anchor="middle" font-size="10.4" font-weight="700">5</text>
<polyline points="126.8,163.8 91,233.7 0,233.7" fill="none" stroke="#3c3c3c" stroke-width="1.0" stroke-linejoin="miter" stroke-dasharray="2.9 3.1"/>
<polyline points="437.7,343.7 402,411.7 305,411.7" fill="none" stroke="#3c3c3c" stroke-width="1.0" stroke-linejoin="miter" stroke-dasharray="2.9 3.1"/>
<rect x="0.6" y="215.3" width="14.8" height="13.6" rx="2" fill="#fff" stroke="#777" stroke-width="0.9"/><rect x="1.9" y="216.6" width="12.2" height="11" rx="1.2" fill="none" stroke="#aaa" stroke-width="0.5"/><text x="2.8" y="221.7" font-size="4.4" font-weight="700" style="fill:#777">TL-</text><text x="2.8" y="226.5" font-size="4.4" font-weight="700" style="fill:#777">HS37</text>
<text x="17.9" y="226.8" font-size="10.9" font-weight="700">/</text>
<rect x="23" y="215.3" width="15.2" height="13.6" rx="2.2" fill="#fff" stroke="#333" stroke-width="0.9"/><path d="M29,219.1 H38" stroke="#111" stroke-width="1.3" fill="none"/><path d="M24.6,216.4 L29,216.6 L30.6,218.4 L30.6,219.8 L29,221.6 L24.6,221.8 L24.6,220.6 L27.9,220.2 L27.9,218 L24.6,217.6Z" fill="#111"/><text x="31.3" y="227.2" text-anchor="middle" font-size="7.6" font-weight="700">17</text>
<text x="43" y="226.8" font-size="10.9" font-weight="700">3 - 5 N·m</text>
<polygon points="312.5,393.8 319.2,397.2 319.2,404 312.5,407.4 305.8,404 305.8,397.2" fill="#111" stroke="#111" stroke-width="1.2" stroke-linejoin="round"/><text x="312.5" y="404" text-anchor="middle" font-size="9.6" font-weight="700" style="fill:#fff" textLength="9.4" lengthAdjust="spacingAndGlyphs">12</text>
<text x="323.7" y="404.9" font-size="10.9" font-weight="700">147 - 200 N·m</text>
<polygon points="30.3,476 37,479.4 37,486.2 30.3,489.6 23.6,486.2 23.6,479.4" fill="#111" stroke="#111" stroke-width="1.2" stroke-linejoin="round"/><text x="30.3" y="486.2" text-anchor="middle" font-size="9.6" font-weight="700" style="fill:#fff" textLength="9.4" lengthAdjust="spacingAndGlyphs">12</text>
<text x="46.5" y="486.4" font-size="10.9" font-weight="700">12 mm hexagon wrench</text>
<rect x="0.6" y="496.2" width="14.8" height="13.6" rx="2" fill="#fff" stroke="#777" stroke-width="0.9"/><rect x="1.9" y="497.5" width="12.2" height="11" rx="1.2" fill="none" stroke="#aaa" stroke-width="0.5"/><text x="2.8" y="502.6" font-size="4.4" font-weight="700" style="fill:#777">TL-</text><text x="2.8" y="507.4" font-size="4.4" font-weight="700" style="fill:#777">HS37</text>
<text x="18.1" y="507.4" font-size="10.9" font-weight="700">/</text>
<rect x="23.2" y="496.2" width="15.2" height="13.6" rx="2.2" fill="#fff" stroke="#333" stroke-width="0.9"/><path d="M29.2,500 H38.2" stroke="#111" stroke-width="1.3" fill="none"/><path d="M24.8,497.3 L29.2,497.5 L30.8,499.3 L30.8,500.7 L29.2,502.5 L24.8,502.7 L24.8,501.5 L28.1,501.1 L28.1,498.9 L24.8,498.5Z" fill="#111"/><text x="31.5" y="508.1" text-anchor="middle" font-size="7.6" font-weight="700">17</text>
<text x="46.5" y="507.4" font-size="10.9" font-weight="700">TL-HS37 / 17 mm hub spanner</text>
</svg>
</body></html>
